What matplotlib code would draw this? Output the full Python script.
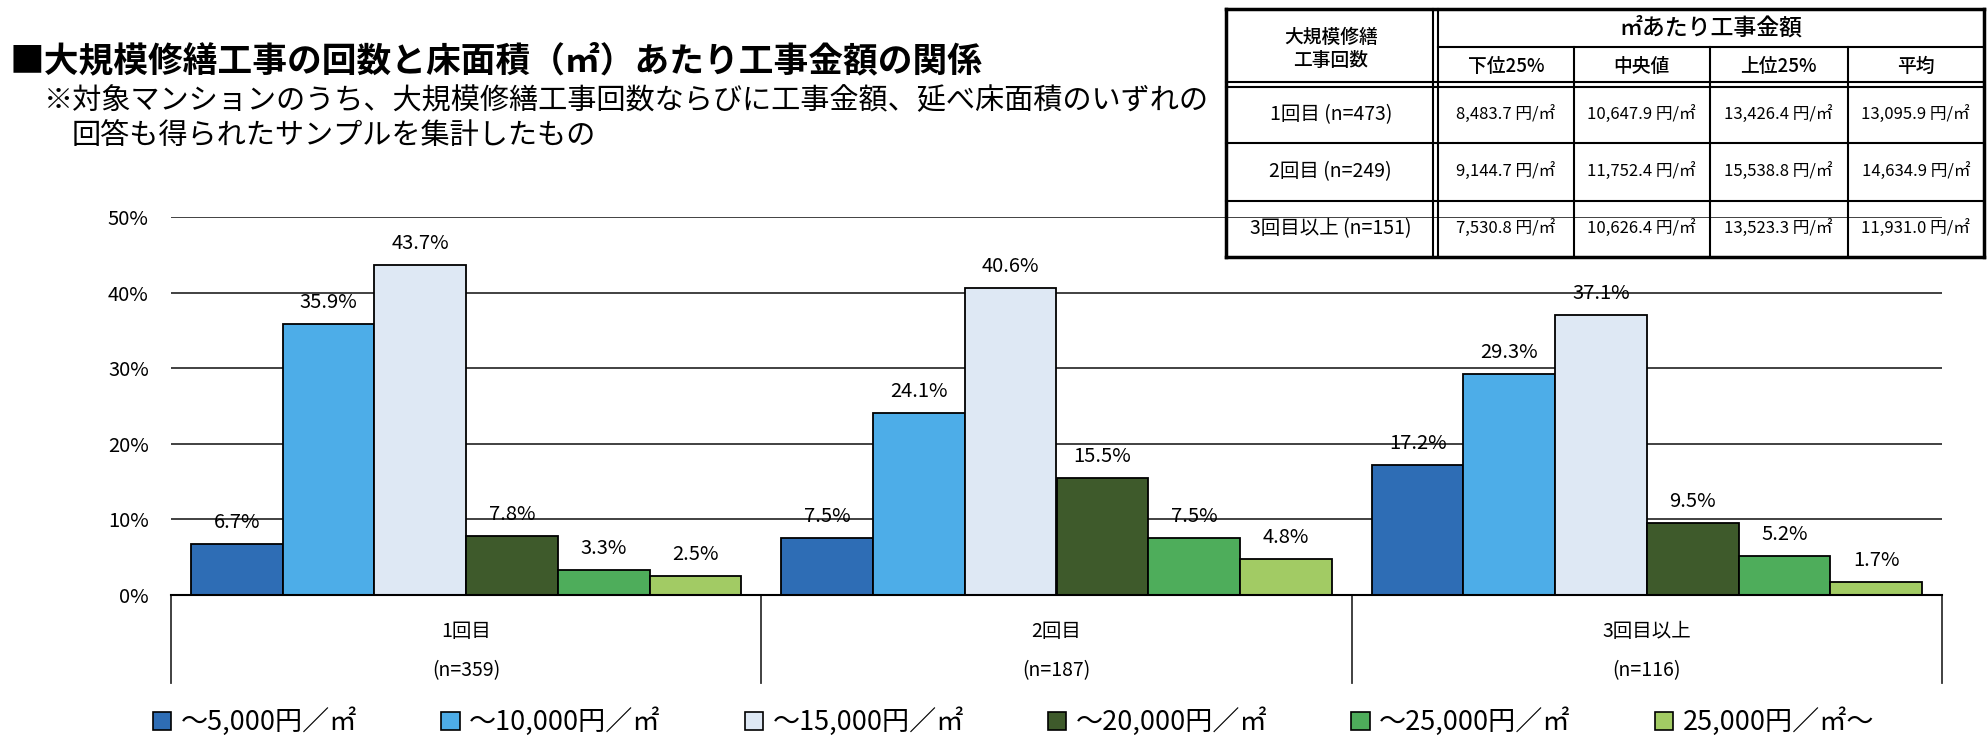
import matplotlib
matplotlib.use('Agg')
import matplotlib.pyplot as plt
from matplotlib.patches import Patch
from matplotlib.lines import Line2D
import matplotlib.transforms as mtransforms
import numpy as np

plt.rcParams['font.family'] = ['Noto Sans CJK JP', 'DejaVu Sans']

# ---------------- data ----------------
categories = ['1回目', '2回目', '3回目以上']
sample_sizes = ['(n=359)', '(n=187)', '(n=116)']
series_labels = ['～5,000円／㎡', '～10,000円／㎡', '～15,000円／㎡',
                 '～20,000円／㎡', '～25,000円／㎡', '25,000円／㎡～']
s_5000 = [6.7, 7.5, 17.2]
s_10000 = [35.9, 24.1, 29.3]
s_15000 = [43.7, 40.6, 37.1]
s_20000 = [7.8, 15.5, 9.5]
s_25000 = [3.3, 7.5, 5.2]
s_over = [2.5, 4.8, 1.7]
y_ticks = [0, 10, 20, 30, 40, 50]

table_row_labels = ['1回目 (n=473)', '2回目 (n=249)', '3回目以上 (n=151)']
table_col_labels = ['下位25%', '中央値', '上位25%', '平均']
lower25 = [8483.7, 9144.7, 7530.8]
median = [10647.9, 11752.4, 10626.4]
upper25 = [13426.4, 15538.8, 13523.3]
mean = [13095.9, 14634.9, 11931.0]

title = '■大規模修繕工事の回数と床面積（㎡）あたり工事金額の関係'
note1 = '※対象マンションのうち、大規模修繕工事回数ならびに工事金額、延べ床面積のいずれの'
note2 = '回答も得られたサンプルを集計したもの'

# ---------------- style ----------------
colors = ['#2E6DB5', '#4DADE8', '#DEE8F4', '#3E5A2B', '#4EAD5B', '#A2CB64']
W, H = 1988, 744

fig = plt.figure(figsize=(W / 100, H / 100), dpi=100)

def fx(x):
    return x / W

def fy(y):
    return 1 - y / H

ax_left, ax_right, ax_top, ax_bot = 171, 1942, 217.3, 595
ax = fig.add_axes([fx(ax_left), fy(ax_bot), fx(ax_right - ax_left), (ax_bot - ax_top) / H])

series = [s_5000, s_10000, s_15000, s_20000, s_25000, s_over]
x = np.arange(len(categories))
bw = 0.1553
for i, (vals, c) in enumerate(zip(series, colors)):
    bars = ax.bar(x + (i - 2.5) * bw, vals, width=bw, color=c, edgecolor='black',
                  linewidth=1.3, zorder=3)
    ax.bar_label(bars, labels=[f'{v:.1f}%' for v in vals], padding=8, fontsize=14.5)

ax.set_xlim(-0.5, len(categories) - 0.5)
ax.set_ylim(0, 50)
ax.set_yticks(y_ticks)
ax.set_yticklabels([f'{t}%' for t in y_ticks])
ax.tick_params(axis='y', length=0, pad=16, labelsize=14.5)
ax.yaxis.grid(True, color='#333333', linewidth=1.3)
ax.set_axisbelow(True)
for s in ['left', 'right', 'top']:
    ax.spines[s].set_visible(False)
ax.spines['bottom'].set_color('black')
ax.spines['bottom'].set_linewidth(1.5)
ax.spines['bottom'].set_zorder(4)

ax.set_xticks(x)
ax.set_xticklabels([f'{c}\n{n}' for c, n in zip(categories, sample_sizes)],
                   fontsize=14, linespacing=2.1)
ax.tick_params(axis='x', length=0, pad=19)

trans = mtransforms.blended_transform_factory(ax.transData, ax.transAxes)
box_depth = (683 - ax_bot) / (ax_bot - ax_top)
for b in np.arange(len(categories) + 1) - 0.5:
    ax.plot([b, b], [0, -box_depth], transform=trans, clip_on=False,
            color='#333333', linewidth=1.3)

# legend
handles = [Patch(facecolor=c, edgecolor='black', linewidth=1.2) for c in colors]
fig.legend(handles, series_labels, loc='center left',
           bbox_to_anchor=(fx(153), fy(722)), ncol=6, frameon=False,
           fontsize=19.5, handlelength=0.68, handleheight=0.68,
           handletextpad=0.35, columnspacing=3.1, borderaxespad=0, borderpad=0)

# title and notes
fig.text(fx(10), fy(61), title, fontsize=25, fontweight='bold', va='center', ha='left')
fig.text(fx(44), fy(101), note1, fontsize=21, va='center', ha='left')
fig.text(fx(72), fy(136), note2, fontsize=21, va='center', ha='left')

# ---------------- table ----------------
tl, tr, tt, tb = 1226, 1984, 9, 257
c0 = 1435.5
cols = [1438, 1573.6, 1710, 1847.5, 1984]
hdr_mid = 47
hdr_bot = 84
row_lines = [143, 201]

def hline(y, x0, x1, lw=1.5):
    fig.add_artist(Line2D([fx(x0), fx(x1)], [fy(y), fy(y)], color='black', linewidth=lw))

def vline(xp, y0, y1, lw=1.5):
    fig.add_artist(Line2D([fx(xp), fx(xp)], [fy(y0), fy(y1)], color='black', linewidth=lw))

# outer
hline(tt, tl, tr, 2.5)
hline(tb, tl, tr, 2.5)
vline(tl, tt, tb, 2.5)
vline(tr, tt, tb, 2.5)
# double lines
vline(c0 - 2.5, tt, tb, 1.5)
vline(c0 + 2.5, tt, tb, 1.5)
hline(hdr_bot - 2.5, tl, tr, 1.5)
hline(hdr_bot + 2.5, tl, tr, 1.5)
hline(hdr_mid, cols[0], tr, 1.5)
for xc in cols[1:-1]:
    vline(xc, hdr_mid, tb, 1.5)
for yr in row_lines:
    hline(yr, tl, tr, 1.5)

first_cx = (tl + c0) / 2
fig.text(fx(first_cx), fy(37), '大規模修繕', fontsize=13.5, ha='center', va='center',
         fontweight='medium')
fig.text(fx(first_cx), fy(61), '工事回数', fontsize=13.5, ha='center', va='center',
         fontweight='medium')
fig.text(fx((cols[0] + tr) / 2), fy(28), '㎡あたり工事金額', fontsize=16.5, ha='center',
         va='center', fontweight='medium')
col_centers = [(cols[i] + cols[i + 1]) / 2 for i in range(4)]
for cx, lab in zip(col_centers, table_col_labels):
    fig.text(fx(cx), fy(66), lab, fontsize=13.5, ha='center', va='center',
             fontweight='medium')

row_centers = [(hdr_bot + 2.5 + row_lines[0]) / 2, (row_lines[0] + row_lines[1]) / 2,
               (row_lines[1] + tb) / 2]
table_values = [lower25, median, upper25, mean]
for r, (ry, rlab) in enumerate(zip(row_centers, table_row_labels)):
    fig.text(fx(first_cx), fy(ry), rlab, fontsize=14, ha='center', va='center')
    for cx, colvals in zip(col_centers, table_values):
        fig.text(fx(cx), fy(ry), f'{colvals[r]:,.1f} 円/㎡', fontsize=12,
                 ha='center', va='center')

fig.savefig('out.png', dpi=100)
